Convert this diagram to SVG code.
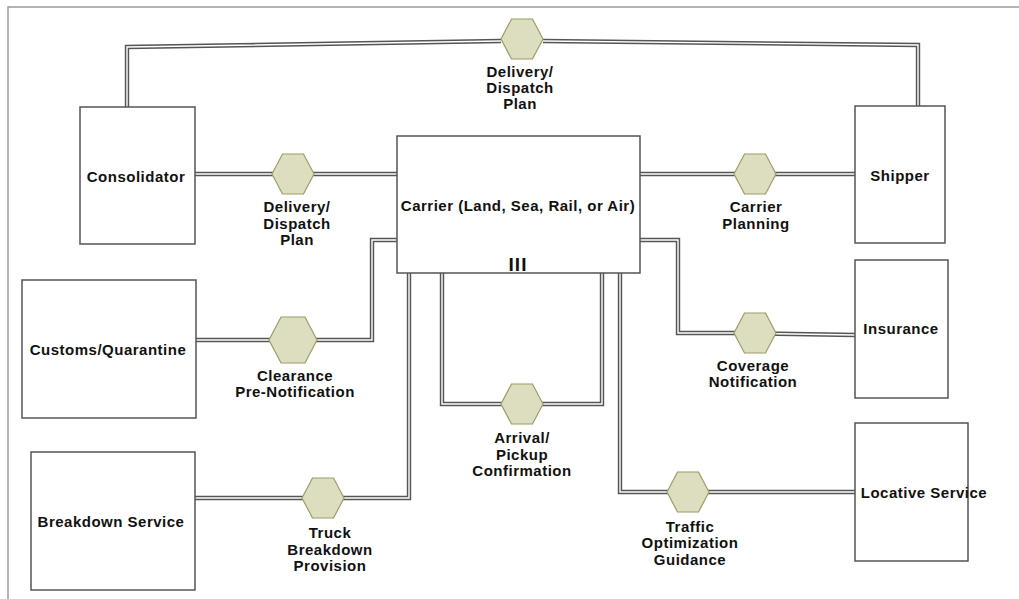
<svg xmlns="http://www.w3.org/2000/svg" width="1019" height="599" viewBox="0 0 1019 599">
  <style>
    .frame { fill: none; stroke: #9a9a9a; stroke-width: 1.5; }
    .box { fill: #ffffff; stroke: #555555; stroke-width: 1.5; }
    .hex { fill: #dddebf; stroke: #9c9c66; stroke-width: 1.2; }
    .wire-out { fill: none; stroke: #555555; stroke-width: 4.4; stroke-linejoin: miter; }
    .wire-in { fill: none; stroke: #ffffff; stroke-width: 1.4; stroke-linejoin: miter; }
    text { font-family: "Liberation Sans", Arial, sans-serif; font-weight: bold; font-size: 15px; letter-spacing: 0.5px; fill: #111111; text-anchor: middle; }
    .big { font-size: 19px; letter-spacing: 1px; }
  </style>
  <defs>
    <polygon id="hx" points="-21,0 -10.5,-20 10.5,-20 21,0 10.5,20 -10.5,20"/>
    <polygon id="hxl" points="-24,0 -12,-23 12,-23 24,0 12,23 -12,23"/>
  </defs>

  <rect width="1019" height="599" fill="#ffffff"/>
  <polyline class="frame" points="8,599 8,7 1019,7"/>

  <!-- connectors: double-line links between the parties -->
  <g id="connectors">
    <g class="wire-out">
      <polyline points="127,107 127,47 501,41"/>
      <polyline points="543,41 918,45 918,106"/>
      <polyline points="195,174 397,174"/>
      <polyline points="640,174 855,174"/>
      <polyline points="196,340 372,340 372,240 397,240"/>
      <polyline points="640,240 678,240 678,333 735,333 855,335"/>
      <polyline points="442,273 442,404 602,404 602,273"/>
      <polyline points="195,498 409,498 409,273"/>
      <polyline points="620,273 620,492 855,492"/>
    </g>
    <g class="wire-in">
      <polyline points="127,107 127,47 501,41"/>
      <polyline points="543,41 918,45 918,106"/>
      <polyline points="195,174 397,174"/>
      <polyline points="640,174 855,174"/>
      <polyline points="196,340 372,340 372,240 397,240"/>
      <polyline points="640,240 678,240 678,333 735,333 855,335"/>
      <polyline points="442,273 442,404 602,404 602,273"/>
      <polyline points="195,498 409,498 409,273"/>
      <polyline points="620,273 620,492 855,492"/>
    </g>
  </g>

  <!-- parties -->
  <g id="consolidator">
    <rect class="box" x="80" y="107" width="115" height="137"/>
    <text x="136" y="182">Consolidator</text>
  </g>
  <g id="carrier">
    <rect class="box" x="397" y="136" width="243" height="137"/>
    <text x="518" y="211">Carrier (Land, Sea, Rail, or Air)</text>
    <text class="big" x="518" y="271">III</text>
  </g>
  <g id="shipper">
    <rect class="box" x="855" y="106" width="90" height="137"/>
    <text x="900" y="181">Shipper</text>
  </g>
  <g id="customs">
    <rect class="box" x="22" y="280" width="174" height="138"/>
    <text x="108" y="355">Customs/Quarantine</text>
  </g>
  <g id="insurance">
    <rect class="box" x="855" y="260" width="93" height="138"/>
    <text x="901" y="334">Insurance</text>
  </g>
  <g id="breakdown">
    <rect class="box" x="31" y="452" width="164" height="138"/>
    <text x="111" y="527">Breakdown Service</text>
  </g>
  <g id="locative">
    <rect class="box" x="855" y="423" width="113" height="138"/>
    <text x="924" y="498">Locative Service</text>
  </g>

  <!-- exchanged messages -->
  <g id="msg-delivery-top">
    <use href="#hx" class="hex" x="522" y="39"/>
    <text x="520" y="77">Delivery/</text>
    <text x="520" y="93">Dispatch</text>
    <text x="520" y="109">Plan</text>
  </g>
  <g id="msg-delivery">
    <use href="#hx" class="hex" x="293" y="174"/>
    <text x="297" y="212">Delivery/</text>
    <text x="297" y="229">Dispatch</text>
    <text x="297" y="245">Plan</text>
  </g>
  <g id="msg-carrier-planning">
    <use href="#hx" class="hex" x="755" y="174"/>
    <text x="756" y="212">Carrier</text>
    <text x="756" y="229">Planning</text>
  </g>
  <g id="msg-clearance">
    <use href="#hxl" class="hex" x="293" y="340"/>
    <text x="295" y="381">Clearance</text>
    <text x="295" y="397">Pre-Notification</text>
  </g>
  <g id="msg-coverage">
    <use href="#hx" class="hex" x="755" y="333"/>
    <text x="753" y="371">Coverage</text>
    <text x="753" y="387">Notification</text>
  </g>
  <g id="msg-arrival">
    <use href="#hx" class="hex" x="522" y="404"/>
    <text x="522" y="443">Arrival/</text>
    <text x="522" y="460">Pickup</text>
    <text x="522" y="476">Confirmation</text>
  </g>
  <g id="msg-truck">
    <use href="#hx" class="hex" x="323" y="498"/>
    <text x="330" y="538">Truck</text>
    <text x="330" y="555">Breakdown</text>
    <text x="330" y="571">Provision</text>
  </g>
  <g id="msg-traffic">
    <use href="#hx" class="hex" x="688" y="492"/>
    <text x="690" y="532">Traffic</text>
    <text x="690" y="548">Optimization</text>
    <text x="690" y="565">Guidance</text>
  </g>
</svg>
